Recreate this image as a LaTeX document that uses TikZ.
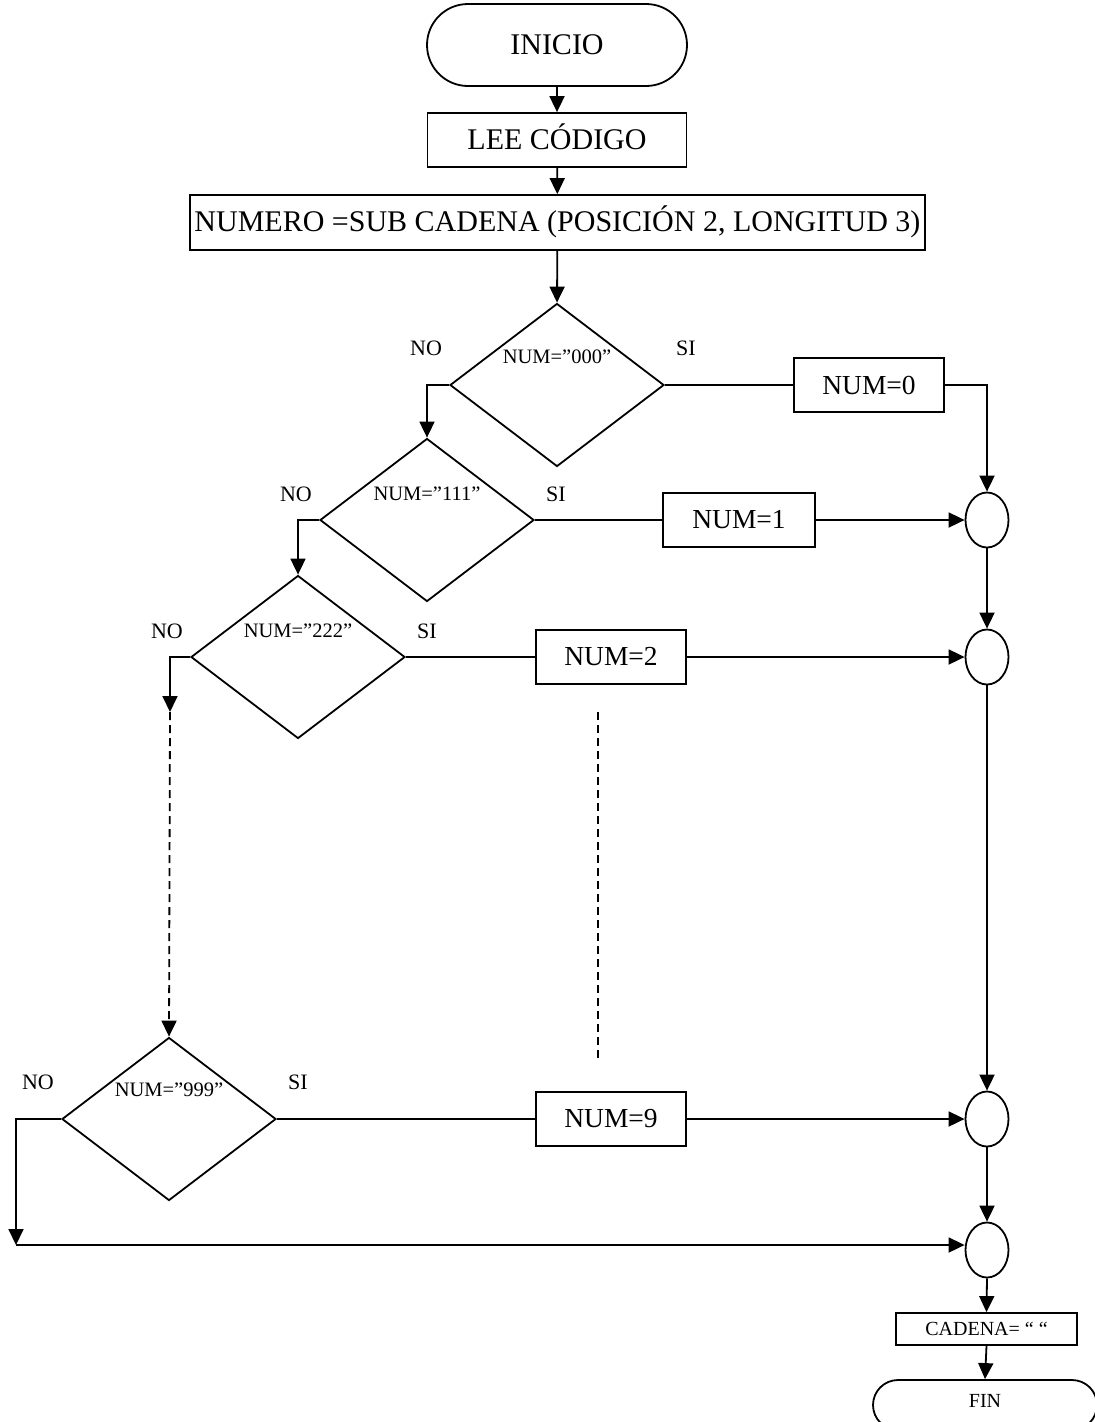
\documentclass[tikz,border=0pt]{standalone}
\usepackage{fontspec}
\setmainfont{Liberation Serif}
\usetikzlibrary{shapes.geometric,shapes.misc,arrows.meta}
\begin{document}
\begin{tikzpicture}[x=1pt,y=-1pt,
  every node/.style={font=\fontsize{30}{33}\selectfont},
  line/.style={line width=1.8pt},
  arr/.style={line width=1.8pt,-{Triangle[length=16pt,width=15pt]}},
  box/.style={draw,line width=1.8pt,inner sep=0pt},
  term/.style={draw,line width=1.8pt,rounded rectangle,inner sep=0pt},
  dec/.style={draw,diamond,line width=1.8pt,inner sep=0pt,
    minimum width=214pt,minimum height=163pt},
  joint/.style={draw,ellipse,line width=1.8pt,inner sep=0pt,
    minimum width=43pt,minimum height=55pt},
  assign/.style={box,minimum width=150pt,minimum height=54pt,
    font=\fontsize{27.5}{30}\selectfont},
  cond/.style={font=\fontsize{20.5}{22}\selectfont,inner sep=0pt},
  tag/.style={font=\fontsize{22}{24}\selectfont,inner sep=0pt},
  small/.style={font=\fontsize{20}{22}\selectfont},
]
\useasboundingbox (0,0) rectangle (1095,1422);

% start, read and substring
\node[term,minimum width=260pt,minimum height=82pt] (inicio) at (557,45) {INICIO};
\node[box,minimum width=259pt,minimum height=54pt] (lee) at (557,140) {\raisebox{7pt}{LEE CÓDIGO}};
\node[box,minimum width=735pt,minimum height=55pt] (sub) at (557.5,222.5)
  {\raisebox{7pt}{NUMERO =SUB CADENA (POSICIÓN 2, LONGITUD 3)}};

% decisions
\node[dec] (d0) at (557,385) {};
\node[dec] (d1) at (427,520) {};
\node[dec] (d2) at (298,657) {};
\node[dec] (d9) at (169,1119) {};

\node[cond] (t0) at ([yshift=28pt]d0.center) {NUM=”000”};
\node[cond] (t1) at ([yshift=26pt]d1.center) {NUM=”111”};
\node[cond] (t2) at ([yshift=26pt]d2.center) {NUM=”222”};
\node[cond] (t9) at ([yshift=29pt]d9.center) {NUM=”999”};

% branch labels
\foreach \d/\h in {d0/37,d1/26,d2/26,d9/37}{
  \node[tag] (\d no) at ([xshift=-131pt,yshift=\h pt]\d.center) {NO};
  \node[tag] (\d si) at ([xshift=129pt,yshift=\h pt]\d.center) {SI};
}

% assignments
\node[assign] (n0) at (869,385) {NUM=0\hspace{18pt}};
\node[assign,minimum width=152pt] (n1) at (739,520) {NUM=1\hspace{18pt}};
\node[assign] (n2) at (611,657) {NUM=2\hspace{18pt}};
\node[assign] (n9) at (611,1119) {NUM=9\hspace{18pt}};

% joints
\node[joint] (j1) at (987,520) {};
\node[joint] (j2) at (987,657) {};
\node[joint] (j3) at (987,1119) {};
\node[joint] (j4) at (987,1250) {};

% end
\node[box,minimum width=181pt,minimum height=32pt,small] (cad) at (986.5,1329) {CADENA= “ “};
\node[term,minimum width=224pt,minimum height=50pt,small] (fin) at (985,1405) {\raisebox{8pt}{FIN}};

\coordinate (c2) at (170,712);
\coordinate (c9) at (16,1245);
\coordinate (g1) at (598,712);
\coordinate (g2) at (598,1058);

\draw[arr] (inicio) -- (lee);
\draw[arr] (lee) -- (sub);
\draw[arr] (sub) -- (d0.north);
\draw[arr] (d0.west) -| (d1.north);
\draw[line] (d0.east) -- (n0.west);
\draw[arr] (n0.east) -| (j1.north);
\draw[line] (d1.east) -- (n1.west);
\draw[arr] (n1.east) -- (j1.west);
\draw[arr] (d1.west) -| (d2.north);
\draw[arr] (j1.south) -- (j2.north);
\draw[line] (d2.east) -- (n2.west);
\draw[arr] (n2.east) -- (j2.west);
\draw[arr] (d2.west) -| (c2);
\draw[arr,dash pattern=on 8pt off 5pt] (c2) -- (d9.north);
\draw[line,dash pattern=on 8pt off 5pt] (g1) -- (g2);
\draw[arr] (j2.south) -- (j3.north);
\draw[line] (d9.east) -- (n9.west);
\draw[arr] (n9.east) -- (j3.west);
\draw[arr] (d9.west) -| (c9);
\draw[arr] (c9) -- (c9 -| j4.west);
\draw[arr] (j3.south) -- (j4.north);
\draw[arr] (j4.south) -- (cad.north);
\draw[arr] (cad.south) -- (fin.north);
\end{tikzpicture}
\end{document}
